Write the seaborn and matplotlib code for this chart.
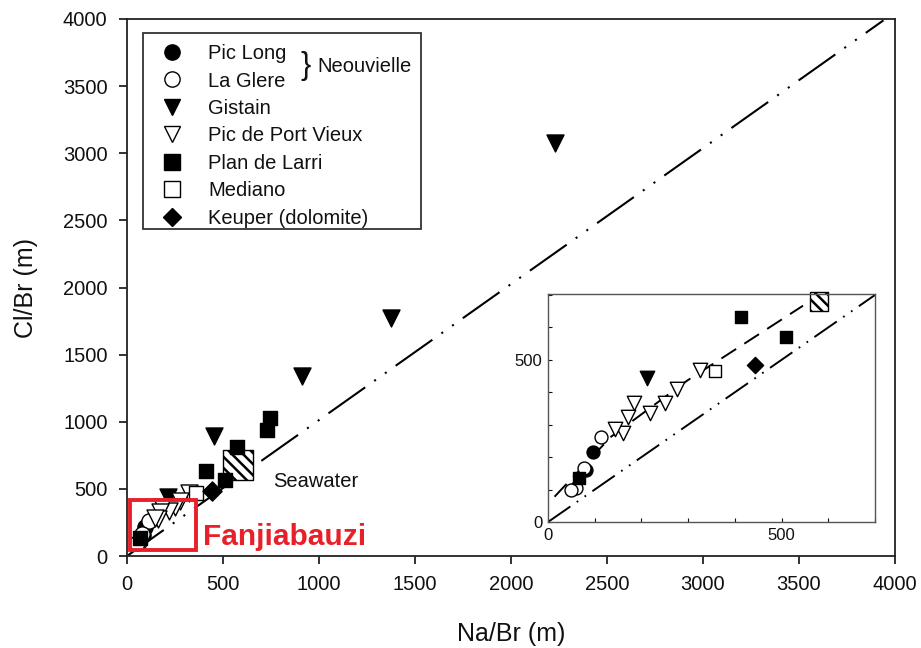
import numpy as np
import pandas as pd
import matplotlib
matplotlib.use("Agg")
import matplotlib.pyplot as plt
from matplotlib.lines import Line2D
from matplotlib.patches import Rectangle
import seaborn as sns

sns.set_theme(style="white")
plt.rcParams['font.family'] = ['Liberation Sans', 'DejaVu Sans']
plt.rcParams['hatch.linewidth'] = 1.8

# ---------------- data ----------------
pic_long_x = [96, 82]
pic_long_y = [217, 160]
la_glere_x = [113, 78, 60, 50]
la_glere_y = [261, 166, 104, 99]
gistain_x = [2230, 1375, 911, 453, 211]
gistain_y = [3080, 1776, 1343, 895, 443]
port_vieux_x = [325, 277, 250, 218, 184, 172, 160, 144]
port_vieux_y = [469, 410, 368, 337, 366, 325, 274, 286]
larri_x = [745, 729, 573, 413, 509, 67]
larri_y = [1030, 940, 813, 631, 569, 135]
mediano_x = [357]
mediano_y = [466]
keuper_x = [443]
keuper_y = [485]
seawater_x = [580]
seawater_y = [680]

series_names = ["Pic Long", "La Glere", "Gistain", "Pic de Port Vieux",
                "Plan de Larri", "Mediano", "Keuper (dolomite)"]

seawater_line_x = [0, 3940]
seawater_line_y = [0, 3990]
inset_trend_x = [14, 135, 298, 546]
inset_trend_y = [78, 263, 436, 667]

frames = []
for name, xs, ys in [("Pic Long", pic_long_x, pic_long_y),
                     ("La Glere", la_glere_x, la_glere_y),
                     ("Gistain", gistain_x, gistain_y),
                     ("Pic de Port Vieux", port_vieux_x, port_vieux_y),
                     ("Plan de Larri", larri_x, larri_y),
                     ("Mediano", mediano_x, mediano_y),
                     ("Keuper (dolomite)", keuper_x, keuper_y)]:
    frames.append(pd.DataFrame({"x": xs, "y": ys, "group": name}))
df = pd.concat(frames, ignore_index=True)
sea_df = pd.DataFrame({"x": seawater_x, "y": seawater_y})

styles = {
    "Pic Long": dict(marker="o", fc="black"),
    "La Glere": dict(marker="o", fc="white"),
    "Gistain": dict(marker="v", fc="black"),
    "Pic de Port Vieux": dict(marker="v", fc="white"),
    "Plan de Larri": dict(marker="s", fc="black"),
    "Mediano": dict(marker="s", fc="white"),
    "Keuper (dolomite)": dict(marker="D", fc="black"),
}
sizes = {"o": 120, "v": 150, "s": 110, "D": 95}

W, H = 921, 648
fig = plt.figure(figsize=(W / 100, H / 100), dpi=100)
fig.patch.set_facecolor("white")

def px_rect(x0, y0, x1, y1):
    return [x0 / W, 1 - y1 / H, (x1 - x0) / W, (y1 - y0) / H]

ax = fig.add_axes(px_rect(127, 19, 895, 556))
ax.set_facecolor("white")

sea_style = (0, (21.6, 5.3, 1.0, 5.3, 1.0, 5.3))
ax.plot(seawater_line_x, seawater_line_y, color="black", lw=1.5,
        linestyle=sea_style, zorder=1)

def draw_points(a, scale, hatch_size):
    sns.scatterplot(data=sea_df, x="x", y="y", ax=a, marker="s",
                    s=hatch_size, color="white", edgecolor="black",
                    linewidth=1.0, hatch="\\\\\\", zorder=2, legend=False,
                    clip_on=False)
    for name in series_names:
        st = styles[name]
        sub = df[df.group == name]
        sns.scatterplot(data=sub, x="x", y="y", ax=a, marker=st["marker"],
                        s=sizes[st["marker"]] * scale, color=st["fc"],
                        edgecolor="black", linewidth=1.0, zorder=3,
                        legend=False)

draw_points(ax, 1.0, 470)

ax.set_xlim(0, 4000)
ax.set_ylim(0, 4000)
ax.set_xticks(np.arange(0, 4001, 500))
ax.set_yticks(np.arange(0, 4001, 500))
ax.tick_params(axis="both", direction="out", length=6, width=1.2,
               labelsize=14.5, colors="#111111", pad=8,
               bottom=True, left=True)
for sp in ax.spines.values():
    sp.set_visible(True)
    sp.set_color("#222222")
    sp.set_linewidth(1.3)
ax.set_xlabel("Na/Br (m)", fontsize=18, color="#111111", labelpad=20)
ax.set_ylabel("Cl/Br (m)", fontsize=18, color="#111111", labelpad=18)
ax.grid(False)

ax.text(984, 552, "Seawater", fontsize=14.5, color="#111111",
        ha="center", va="center")

# red annotation box
ax.add_patch(Rectangle((15, 45), 343, 373, fill=False, edgecolor="#e8202a",
                       linewidth=2.8, zorder=5))
ax.text(395, 140, "Fanjiabauzi", fontsize=21.5, fontweight="bold",
        color="#e8202a", ha="left", va="center", zorder=6)

# legend
handles = []
for name in series_names:
    st = styles[name]
    handles.append(Line2D([], [], linestyle="none", marker=st["marker"],
                          markerfacecolor=st["fc"], markeredgecolor="black",
                          markersize=11 if st["marker"] != "D" else 9.5,
                          markeredgewidth=1.0))
leg = ax.legend(handles, series_names, loc="upper left",
                bbox_to_anchor=(151 / W, 1 - 35 / H),
                bbox_transform=fig.transFigure, borderaxespad=0,
                fontsize=14.5, frameon=False,
                handlelength=1.2, handletextpad=1.2, labelspacing=0.42,
                borderpad=0.45)
for t in leg.get_texts():
    t.set_color("#111111")
fig.patches.append(Rectangle((143 / W, 1 - 229 / H), (421 - 143) / W,
                             (229 - 33) / H, transform=fig.transFigure,
                             fill=False, edgecolor="#333333", linewidth=1.3,
                             zorder=10))
fig.text(300 / W, 1 - 66 / H, "}", fontsize=22, color="#111111",
         ha="left", va="center")
fig.text(317 / W, 1 - 66 / H, "Neouvielle", fontsize=14.5, color="#111111",
         ha="left", va="center")

# inset
axi = fig.add_axes(px_rect(548, 294, 875, 522))
axi.set_facecolor("white")
axi.plot([0, 700], [0, 700], color="black", lw=1.4,
         linestyle=(0, (14, 4, 0.9, 4, 0.9, 4)), zorder=1)
axi.plot(inset_trend_x, inset_trend_y, color="black", lw=1.4,
         linestyle=(0, (9, 5)), zorder=1)
draw_points(axi, 0.72, 170)
axi.set_xlim(0, 698)
axi.set_ylim(0, 703)
axi.set_xticks(np.arange(0, 701, 100))
axi.set_yticks(np.arange(0, 701, 100))
axi.set_xticklabels(["0", "", "", "", "", "500", "", ""])
axi.set_yticklabels(["0", "", "", "", "", "500", "", ""])
axi.tick_params(axis="both", direction="in", length=3, width=0.8,
                labelsize=12, colors="#111111", pad=4, bottom=True, left=True)
for sp in axi.spines.values():
    sp.set_visible(True)
    sp.set_color("#555555")
    sp.set_linewidth(1.0)
axi.set_xlabel("")
axi.set_ylabel("")
axi.grid(False)

fig.savefig("out.png", dpi=100, facecolor="white")
